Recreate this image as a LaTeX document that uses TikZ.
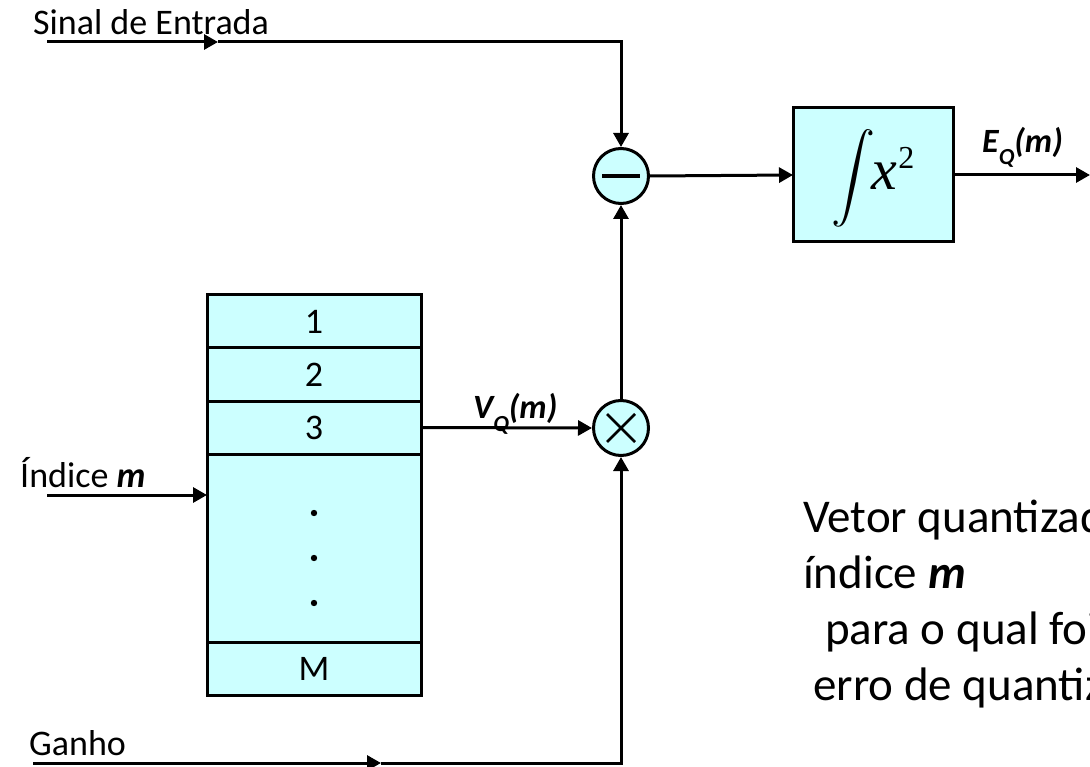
\documentclass[tikz,border=0pt]{standalone}
\usepackage{fontspec}
\setmainfont{Carlito}
\newfontfamily\timesfont{Liberation Serif}
\usetikzlibrary{arrows.meta, positioning, calc}
\definecolor{cellcyan}{HTML}{CCFFFF}

\begin{document}
\begin{tikzpicture}[
    x=1pt, y=-1pt,
    >={Triangle[length=14pt,width=15pt]},
    wire/.style={
        line width=3pt,
    },
    cell/.style={
        draw,
        line width=3pt,
        fill=cellcyan,
        minimum width=214pt,
        minimum height=53pt,
        inner sep=0pt,
        outer sep=0pt,
        font=\fontsize{36}{43}\selectfont,
    },
    junction/.style={
        circle,
        draw,
        line width=3pt,
        fill=cellcyan,
        minimum size=55pt,
        inner sep=0pt,
    },
    lbl/.style={
        font=\fontsize{36}{43}\selectfont,
        inner sep=0pt,
    },
    sig/.style={
        font=\fontsize{34}{40}\selectfont\bfseries\itshape,
        inner sep=0pt,
    },
]
\useasboundingbox (0,0) rectangle (1090,767);
\clip (0,0) rectangle (1090,767);

% --- Codebook: stacked cells ---
\node[cell] (cell1) at (314,321.5) {1};
\node[cell, below=0pt of cell1] (cell2) {2};
\node[cell, below=0pt of cell2] (cell3) {3};
\node[cell, below=0pt of cell3, minimum height=188pt] (cellgap) {};
\node[cell, below=0pt of cellgap] (cellM) {M};
\foreach \dy in {59,104,149}
    \fill (cellgap.north) ++(0,\dy) circle (3.2pt);

% --- Junctions ---
\node[junction] (sub) at (621,176) {};
\draw[line width=3.5pt] ([xshift=-19pt]sub.center) -- ([xshift=19pt]sub.center);
\node[junction] (mul) at (621,428) {};
\draw[line width=2.5pt]
    ([shift={(-14pt,-14pt)}]mul.center) -- ([shift={(14pt,14pt)}]mul.center)
    ([shift={(-14pt,14pt)}]mul.center) -- ([shift={(14pt,-14pt)}]mul.center);

% --- Squared-error integrator ---
\node[cell, minimum width=160pt, minimum height=134pt, font=\normalsize] (integ) at (873,175) {
    \rule{0pt}{67pt}\scalebox{4.4}{$\displaystyle\int$}\kern-4pt{\timesfont\itshape\fontsize{58}{58}\selectfont x}\kern1pt\raisebox{21pt}{\timesfont\fontsize{32}{32}\selectfont 2}
};

% --- Labels ---
\node[lbl, anchor=base west] (sinallbl) at (33,35) {Sinal de Entrada};
\node[lbl, anchor=base west] (idxlbl) at (20,487) {Índice \textbf{\textit{m}}};
\node[lbl, anchor=base west] (ganholbl) at (29,755) {Ganho};
\node[sig, anchor=base west] (vqlbl) at (473,418)
    {V\raisebox{-0.4em}{\fontsize{23}{23}\selectfont Q}(m)};
\node[sig, anchor=base west] (eqlbl) at (982,153)
    {E\raisebox{-0.35em}{\fontsize{23}{23}\selectfont Q}(m)};
% base anchor sits on the last line
\node[anchor=base west, align=left, inner sep=0pt, font=\fontsize{47}{56}\selectfont] (note) at (803,700) {
    Vetor quantizado\\
    índice \textbf{\textit{m}}\\
    \hspace*{22pt}para o qual foi\\
    \hspace*{10pt}erro de quantização
};

% --- Connectors ---
\coordinate (sinalin) at (47,42);
\coordinate (sinalmid) at (218,42);
\draw[wire, ->] (sinalin) -- (sinalmid);
\draw[wire, ->] (sinalmid) -| (sub.north);

\coordinate (idxin) at (47,495);
\draw[wire, ->] (idxin) -- (idxin -| cellgap.west);

\coordinate (ganhoin) at (33,763);
\coordinate (ganhomid) at (381,763);
\draw[wire, ->] (ganhoin) -- (ganhomid);
\draw[wire, ->] (ganhomid) -| (mul.south);

\draw[wire, ->] (cell3.east) -- (mul.west);
\draw[wire, ->] (mul.north) -- (sub.south);
\draw[wire, ->] (sub.east) -- (integ.west);
\coordinate (eqout) at (1090,175);
\draw[wire, ->] (integ.east) -- (eqout);

\end{tikzpicture}
\end{document}
